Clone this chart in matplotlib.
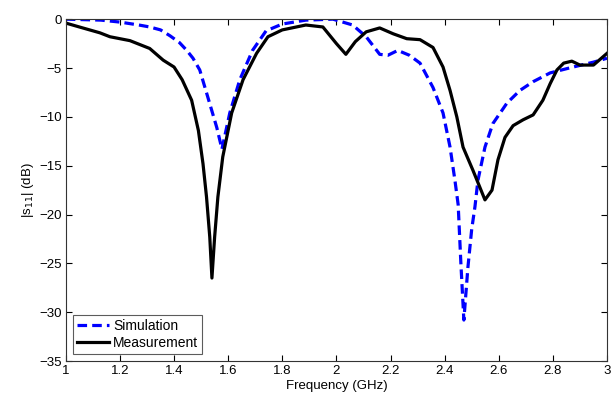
import matplotlib.pyplot as plt

plt.rcParams['font.family'] = ['Liberation Sans', 'DejaVu Sans']

# Simulation (blue dashed)
f_sim = [1.0, 1.13, 1.2, 1.27, 1.31, 1.35, 1.385, 1.42, 1.447, 1.47, 1.495, 1.525,
         1.558, 1.577, 1.606, 1.643, 1.69, 1.74, 1.8, 1.887, 1.987, 2.06, 2.11,
         2.16, 2.19, 2.227, 2.27, 2.309, 2.357, 2.394, 2.42, 2.438, 2.45, 2.46,
         2.471, 2.486, 2.5, 2.512, 2.523, 2.549, 2.578, 2.63, 2.678, 2.727, 2.79,
         2.875, 2.95, 3.0]
s_sim = [0.0, -0.1, -0.3, -0.6, -0.8, -1.1, -1.7, -2.4, -3.2, -4.0, -5.2, -8.0,
         -11.1, -13.3, -9.6, -6.2, -3.2, -1.2, -0.5, -0.1, 0.0, -0.6, -1.8,
         -3.6, -3.7, -3.2, -3.7, -4.5, -7.0, -9.6, -13.1, -16.5, -19.0, -25.0,
         -30.8, -25.4, -21.5, -19.2, -16.5, -13.1, -10.7, -8.6, -7.3, -6.4, -5.5,
         -4.9, -4.4, -4.0]

# Measurement (black solid)
f_meas = [1.0, 1.05, 1.126, 1.163, 1.237, 1.31, 1.36, 1.40, 1.43, 1.465, 1.49,
          1.507, 1.52, 1.532, 1.54, 1.55, 1.562, 1.58, 1.613, 1.655, 1.705, 1.747,
          1.8, 1.887, 1.95, 2.0, 2.035, 2.07, 2.11, 2.16, 2.21, 2.26, 2.309, 2.357,
          2.394, 2.42, 2.445, 2.468, 2.505, 2.53, 2.549, 2.575, 2.597, 2.623,
          2.653, 2.69, 2.727, 2.763, 2.79, 2.815, 2.84, 2.87, 2.9, 2.95, 3.0]
s_meas = [-0.4, -0.8, -1.4, -1.8, -2.2, -3.0, -4.2, -4.9, -6.2, -8.3, -11.4,
          -14.8, -18.2, -22.3, -26.5, -22.3, -18.2, -14.1, -9.6, -6.2, -3.5, -1.8,
          -1.1, -0.6, -0.8, -2.5, -3.6, -2.3, -1.3, -0.9, -1.5, -2.0, -2.1, -2.9,
          -4.9, -7.3, -10.0, -13.1, -15.5, -17.2, -18.5, -17.5, -14.4, -12.1,
          -10.9, -10.3, -9.8, -8.3, -6.6, -5.2, -4.5, -4.3, -4.7, -4.7, -3.5]

fig = plt.figure(figsize=(6.15, 3.99), dpi=100)
ax = fig.add_axes([0.107, 0.095, 0.880, 0.857])

ax.plot(f_sim, s_sim, '--', color='#0000ff', lw=2.3, dashes=(3, 1.6), label='Simulation')
ax.plot(f_meas, s_meas, '-', color='black', lw=2.3, label='Measurement')

ax.set_xlim(1, 3)
ax.set_ylim(-35, 0)
ax.set_xticks([1, 1.2, 1.4, 1.6, 1.8, 2, 2.2, 2.4, 2.6, 2.8, 3])
ax.set_xticklabels(['1', '1.2', '1.4', '1.6', '1.8', '2', '2.2', '2.4', '2.6', '2.8', '3'])
ax.set_yticks([0, -5, -10, -15, -20, -25, -30, -35])
ax.tick_params(direction='in', top=True, right=True, labelsize=9.5, length=4, pad=3)
for sp in ax.spines.values():
    sp.set_color('#333333')
    sp.set_linewidth(0.8)

ax.set_xlabel('Frequency (GHz)', fontsize=9.5, labelpad=2)
ax.set_ylabel('|s$_{11}$| (dB)', fontsize=9.5, labelpad=2)

leg = ax.legend(loc='lower left', fontsize=10, frameon=True, fancybox=False,
                handlelength=2.3, handletextpad=0.3, borderpad=0.3,
                labelspacing=0.2, borderaxespad=0.5)
leg.get_frame().set_edgecolor('#333333')
leg.get_frame().set_linewidth(0.8)

fig.savefig('out.png', dpi=100)
